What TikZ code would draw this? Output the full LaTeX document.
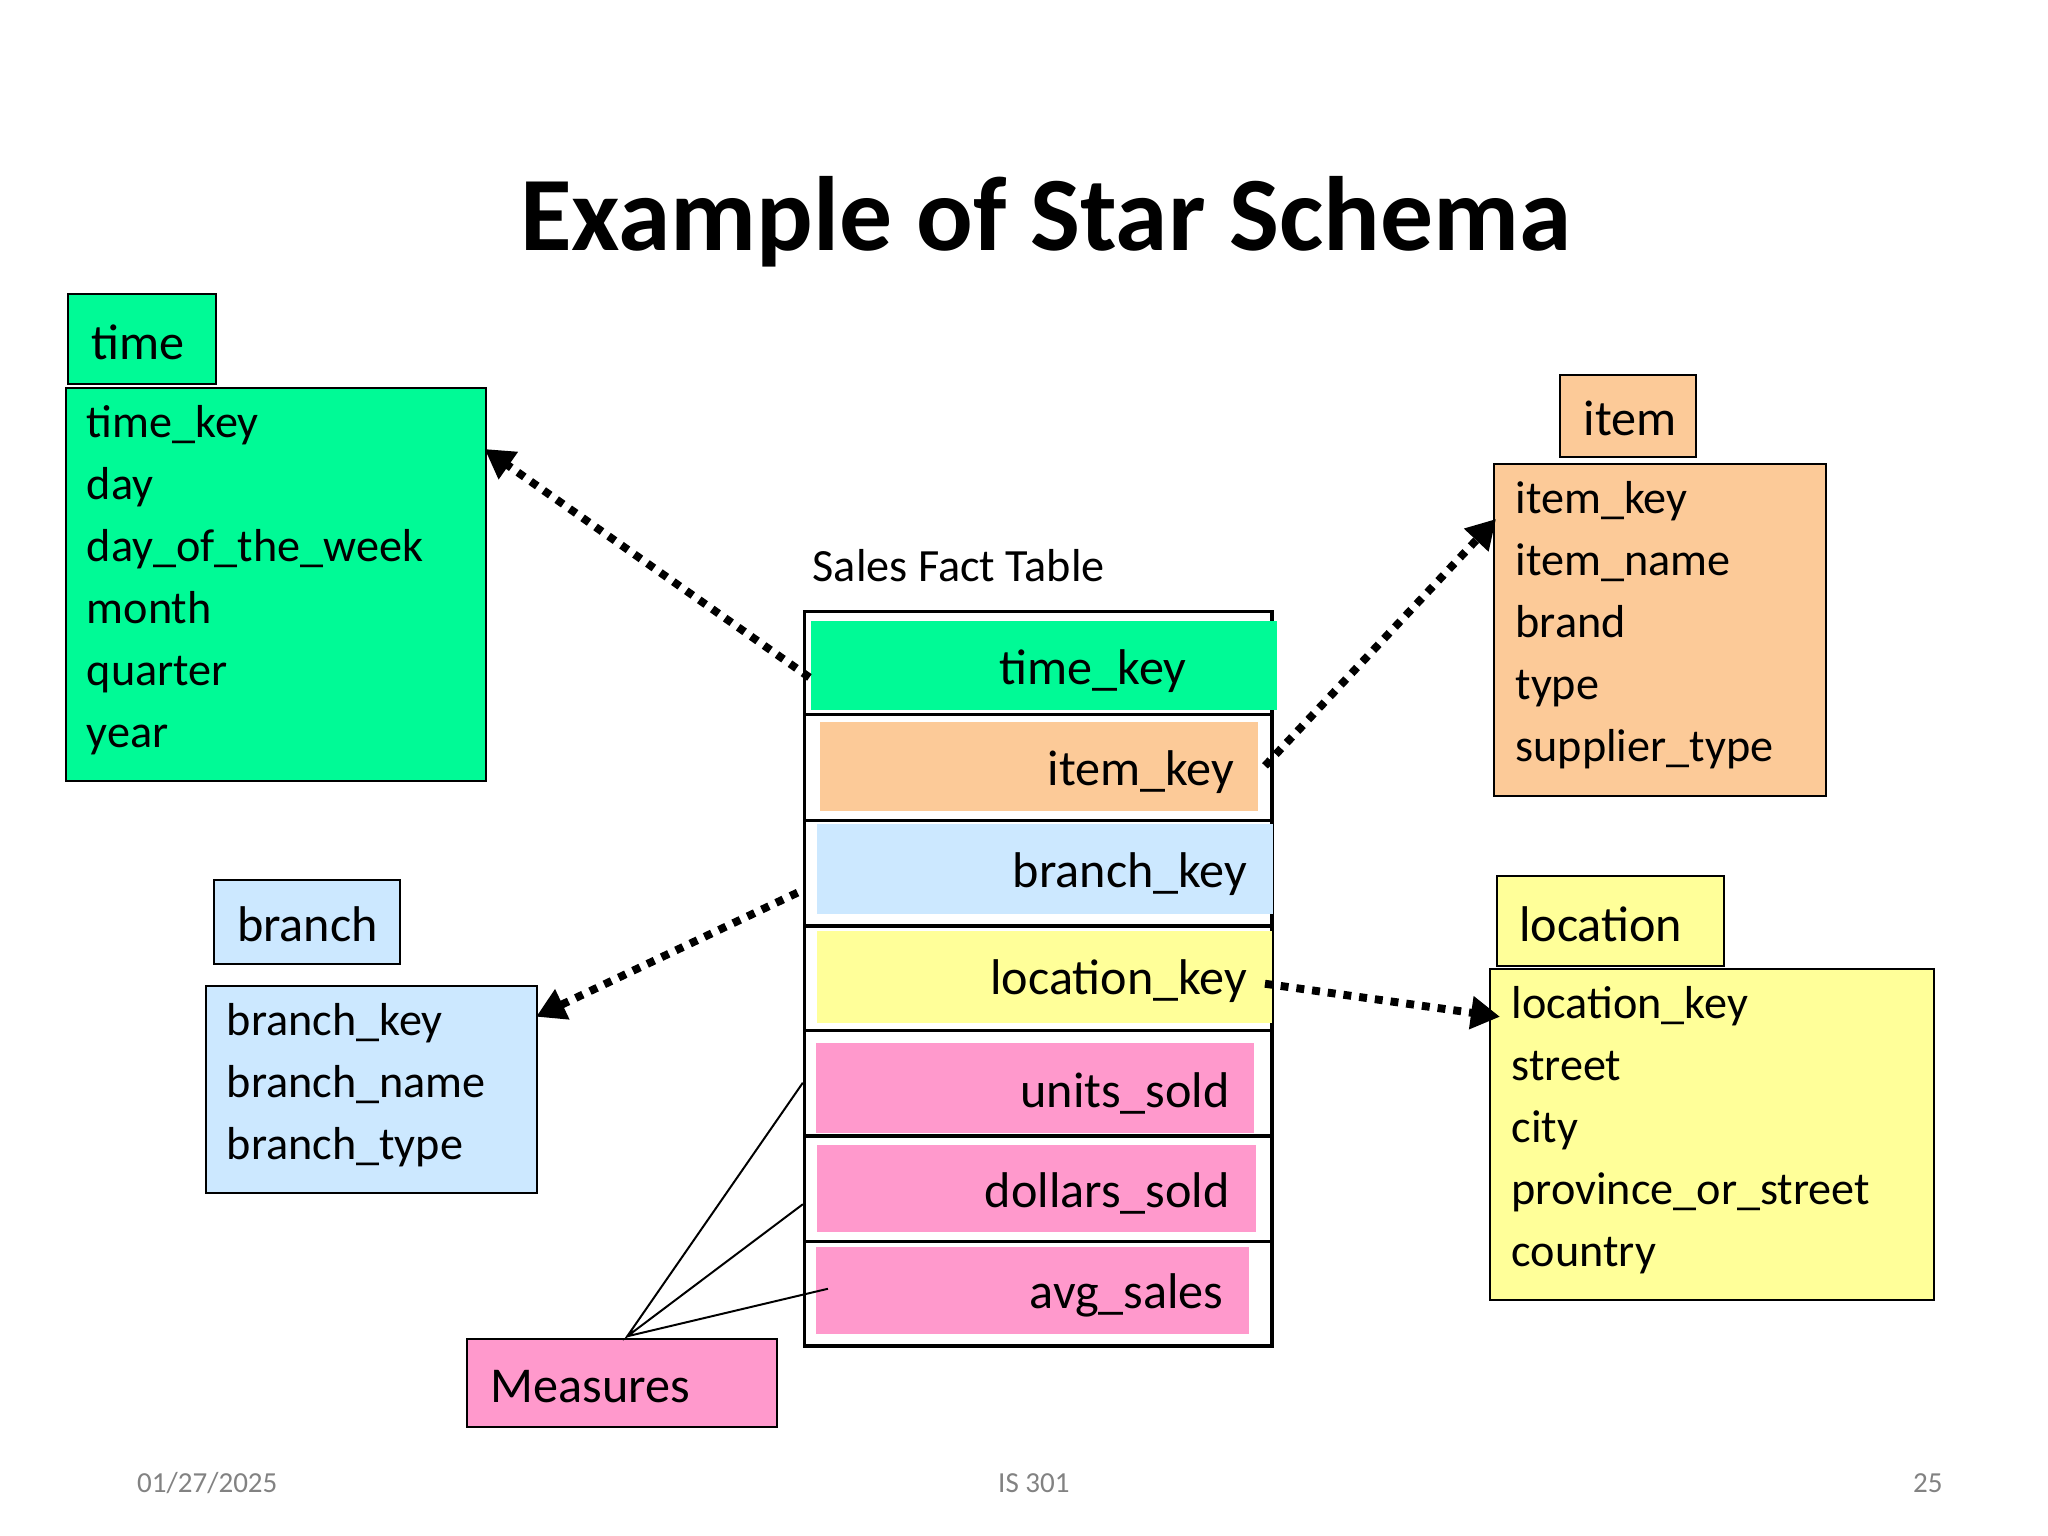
\documentclass[tikz,border=0pt]{standalone}
\usepackage{fontspec}
\setmainfont{Carlito}
\usetikzlibrary{arrows.meta}
\definecolor{cgreen}{RGB}{0,250,150}
\definecolor{corange}{RGB}{252,202,152}
\definecolor{cblue}{RGB}{204,232,255}
\definecolor{cyellow}{RGB}{255,255,153}
\definecolor{cpink}{RGB}{255,153,204}
\definecolor{cgray}{RGB}{130,130,130}
\tikzset{
 box/.style={draw=black, line width=1.5pt, anchor=north west, inner sep=0pt},
 hdr/.style={box, font=\fontsize{38}{40}\selectfont},
 lst/.style={box, align=left, inner xsep=16pt, font=\fontsize{35}{47}\selectfont, text depth=0pt},
 cell/.style={draw=black, line width=2.5pt, fill=white, anchor=north west, inner sep=0pt},
 fld/.style={anchor=north west, inner sep=0pt, font=\fontsize{38}{40}\selectfont},
 darr/.style={line width=6pt, dash pattern=on 6pt off 6pt, -{Triangle[length=22pt,width=24pt]}},
 foot/.style={text=cgray, font=\fontsize{22}{24}\selectfont}
}
\begin{document}
\begin{tikzpicture}[x=1pt,y=-1pt]
\useasboundingbox (0,0) rectangle (1551,1163);
\node[font=\bfseries\fontsize{80}{84}\selectfont] (title) at (792,168) {Example of Star Schema};
% time
\node[hdr, fill=cgreen, minimum width=112pt, minimum height=68pt] (timeh) at (51,222) {};
\node[anchor=west, font=\fontsize{38}{40}\selectfont] at (66,259) {time};
\node[box, fill=cgreen, minimum width=318pt, minimum height=298pt] (time) at (49,293) {};
\node[lst, draw=none, anchor=north west, text width=300pt] at (49,306) {time\_key\\day\\day\_of\_the\_week\\month\\quarter\\year};
% item
\node[hdr, fill=corange, minimum width=103pt, minimum height=62pt] (itemh) at (1181,283) {};
\node[anchor=west, font=\fontsize{38}{40}\selectfont] at (1196,317) {item};
\node[box, fill=corange, minimum width=251pt, minimum height=251pt] (item) at (1131,351) {};
\node[lst, draw=none, text width=240pt] at (1131,364) {item\_key\\item\_name\\brand\\type\\supplier\_type};
% branch
\node[hdr, fill=cblue, minimum width=141pt, minimum height=63pt] (branchh) at (161,666) {};
\node[anchor=west, font=\fontsize{38}{40}\selectfont] at (176,700) {branch};
\node[box, fill=cblue, minimum width=251pt, minimum height=157pt] (branch) at (155,746) {};
\node[lst, draw=none, text width=240pt] at (155,759) {branch\_key\\branch\_name\\branch\_type};
% location
\node[hdr, fill=cyellow, minimum width=172pt, minimum height=68pt] (loch) at (1133,663) {};
\node[anchor=west, font=\fontsize{38}{40}\selectfont] at (1147,700) {location};
\node[box, fill=cyellow, minimum width=336pt, minimum height=251pt] (loc) at (1128,733) {};
\node[lst, draw=none, text width=330pt] at (1128,746) {location\_key\\street\\city\\province\_or\_street\\country};
% measures
\node[box, fill=cpink, minimum width=235pt, minimum height=67pt] (meas) at (353,1013) {};
\node[anchor=west, font=\fontsize{38}{40}\selectfont] (mtxt) at (368,1050) {Measures};
% fact table
\node[anchor=west, font=\fontsize{35}{40}\selectfont] (ftitle) at (612,428) {Sales Fact Table};
\node[cell, minimum width=354pt, minimum height=78pt] (r1) at (608,462) {};
\node[cell, minimum width=354pt, minimum height=80pt] (r2) at (608,540) {};
\node[cell, minimum width=354pt, minimum height=80pt] (r3) at (608,620) {};
\node[cell, minimum width=354pt, minimum height=79pt] (r4) at (608,700) {};
\node[cell, minimum width=354pt, minimum height=80pt] (r5) at (608,779) {};
\node[cell, minimum width=354pt, minimum height=80pt] (r6) at (608,859) {};
\node[cell, minimum width=354pt, minimum height=79pt] (r7) at (608,939) {};
\fill[cgreen] (614,470) rectangle (967,538);
\fill[corange] (621,547) rectangle (953,614);
\fill[cblue] (619,624) rectangle (964,692);
\fill[cyellow] (619,705) rectangle (963,775);
\fill[cpink] (618,790) rectangle (950,858);
\fill[cpink] (619,867) rectangle (951,933);
\fill[cpink] (618,944) rectangle (946,1010);
\node[font=\fontsize{38}{40}\selectfont, anchor=east] (f1) at (902,508) {time\_key};
\node[font=\fontsize{38}{40}\selectfont, anchor=east] (f2) at (938,585) {item\_key};
\node[font=\fontsize{38}{40}\selectfont, anchor=east] (f3) at (948,662) {branch\_key};
\node[font=\fontsize{38}{40}\selectfont, anchor=east] (f4) at (948,743) {location\_key};
\node[font=\fontsize{38}{40}\selectfont, anchor=east] (f5) at (935,828) {units\_sold};
\node[font=\fontsize{38}{40}\selectfont, anchor=east] (f6) at (935,904) {dollars\_sold};
\node[font=\fontsize{38}{40}\selectfont, anchor=east] (f7) at (930,981) {avg\_sales};
% arrows
\coordinate (a1) at (613,513); \coordinate (b1) at (367,340);
\coordinate (a2) at (958,580); \coordinate (b2) at (1133,393);
\coordinate (a3) at (604,676); \coordinate (b3) at (406,770);
\coordinate (a4) at (958,745); \coordinate (b4) at (1136,770);
\draw[darr] (a1) -- (b1);
\draw[darr] (a2) -- (b2);
\draw[darr] (a3) -- (b3);
\draw[darr] (a4) -- (b4);
% measure lines
\coordinate (m0) at (475,1012);
\coordinate (m1) at (608,820); \coordinate (m2) at (608,912); \coordinate (m3) at (627,976);
\draw[line width=1.5pt] (m1) -- (m0) -- (m2) (m0) -- (m3);
% footer
\node[foot] (d) at (157,1123) {01/27/2025};
\node[foot] (c) at (783,1123) {IS 301};
\node[foot] (p) at (1460,1123) {25};
\end{tikzpicture}
\end{document}
